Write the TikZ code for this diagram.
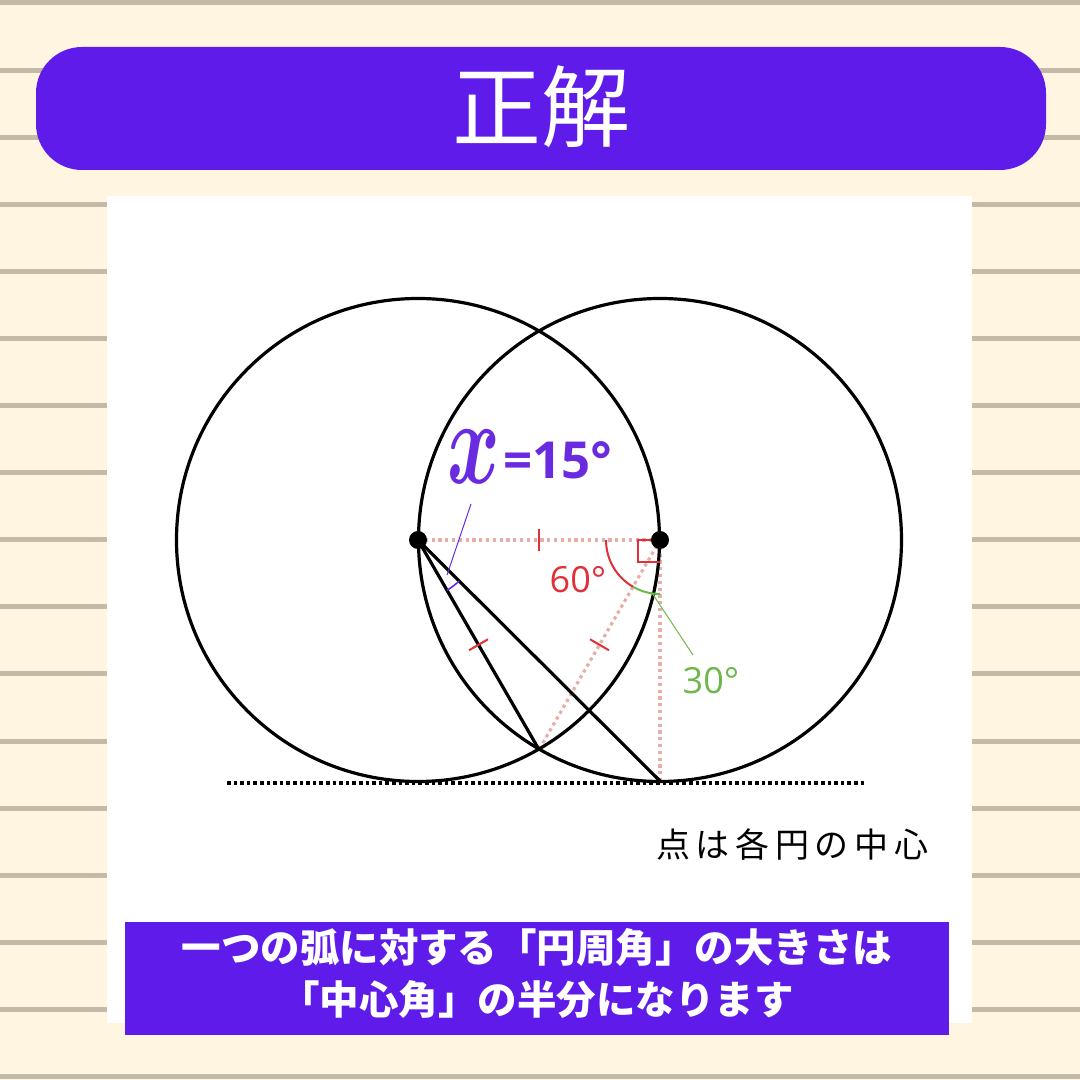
\documentclass[tikz,border=0pt]{standalone}
\usepackage{graphicx}
\usepackage{fontspec}
\setmainfont{Open Sans}
\newfontfamily\jp{Noto Sans CJK JP}
\usetikzlibrary{calc}
\definecolor{bg}{HTML}{FFF5E1}
\definecolor{rule}{HTML}{C3BBA7}
\definecolor{vio}{HTML}{5E1BEA}
\definecolor{lbl}{HTML}{6A2BE0}
\definecolor{pinkdot}{HTML}{E8ADA6}
\definecolor{tickred}{HTML}{E0303A}
\definecolor{grn}{HTML}{6DB84A}
\tikzset{
  circ/.style={draw=black, line width=3.2pt},
  seg/.style={draw=black, line width=3.2pt},
  aux/.style={draw=pinkdot, line width=3.2pt, dash pattern=on 3.2pt off 3.6pt},
  tickm/.style={draw=tickred, line width=2pt},
  centerdot/.style={fill=black, circle, inner sep=0pt, minimum size=18pt},
}
\begin{document}
\begin{tikzpicture}[x=1pt,y=1pt]
\useasboundingbox (0,0) rectangle (1080,1080);
\fill[bg] (0,0) rectangle (1080,1080);
% ruled lines
\foreach \k in {0,...,16}{
  \fill[rule] (0,{1077-67.1*\k-2.5}) rectangle (1080,{1077-67.1*\k+2.5});
}
% title banner
\node[fill=vio, rounded corners=46pt, minimum width=1010pt, minimum height=123pt, inner sep=0pt] (title) at (541,971.5) {};
\node[text=white, font=\jp\fontsize{89}{89}\selectfont] (titletext) at (541,973) {正解};
% white panel
\fill[white] (107,57) rectangle (972,884);
% geometry
\coordinate (A) at (418,540);
\coordinate (B) at (660,540);
\coordinate (P) at (539,330.4);
\coordinate (T) at (660,299);
% dotted tangent
\coordinate (L1) at (227,297);
\coordinate (L2) at (866,297);
\draw[black, line width=3.6pt, dash pattern=on 3.6pt off 3pt] (L1) -- (L2);
% auxiliary dotted lines
\draw[aux] (A) -- (B);
\draw[aux] (B) -- (P);
\draw[aux] (B) -- (T);
% circles
\draw[circ] (A) circle[radius=241.5];
\draw[circ] (B) circle[radius=241.5];
% chords
\draw[seg] (A) -- (P);
\draw[seg] (A) -- (T);
% ticks
\draw[tickm] ($(A)!0.5!(B)+(0,-11)$) -- ($(A)!0.5!(B)+(0,11)$);
\draw[tickm] ($(A)!0.5!(P)+(-9.5,-5.5)$) -- ($(A)!0.5!(P)+(9.5,5.5)$);
\draw[tickm] ($(B)!0.5!(P)+(-9.5,5.5)$) -- ($(B)!0.5!(P)+(9.5,-5.5)$);
% angle marks at B
\draw[tickred, line width=2pt] ($(B)+(180:54)$) arc[start angle=180, end angle=240, radius=54];
\draw[grn, line width=2pt] ($(B)+(240:54)$) arc[start angle=240, end angle=270, radius=54];
\draw[tickred, line width=2pt] (B) -- ++(-22,0) -- ++(0,-22) -- ++(22,0);
% angle mark at A
\draw[lbl, line width=1.6pt] ($(A)+(-60:58)$) arc[start angle=-60, end angle=-45, radius=58];
% labels
\node[text=tickred, font=\fontsize{36}{36}\selectfont] (l60) at (578,500) {60°};
\coordinate (g1) at (652,487);
\coordinate (g2) at (693,425);
\draw[grn, line width=1pt] (g1) -- (g2);
\node[text=grn, font=\fontsize{36}{36}\selectfont] (l30) at (711,399) {30°};
\coordinate (p1) at (471,576);
\coordinate (p2) at (447,505);
\draw[lbl, line width=1pt] (p1) -- (p2);
\node[text=lbl, inner sep=0pt] (lx) at (474,623) {\scalebox{8}[12]{\boldmath$x$}};
\node[text=lbl, font=\bfseries\fontsize{51}{51}\selectfont, anchor=west, inner sep=0pt] (l15) at (503,620) {=15°};
% centers
\node[centerdot] (dA) at (A) {};
\node[centerdot] (dB) at (B) {};
% note
\node[font=\jp\fontsize{34}{34}\selectfont, text=black] (note) at (792,235) {点\,は\,各\,円\,の\,中\,心};
% bottom box
\node[fill=vio, minimum width=824pt, minimum height=113pt, inner sep=0pt] (box) at (537,101.5) {};
\node[text=white, font=\jp\bfseries\fontsize{39.5}{39.5}\selectfont] (b1) at (537,133) {一つの弧に対する「円周角」の大きさは};
\node[text=white, font=\jp\bfseries\fontsize{39.5}{39.5}\selectfont] (b2) at (537,80) {「中心角」の半分になります};
\end{tikzpicture}
\end{document}
